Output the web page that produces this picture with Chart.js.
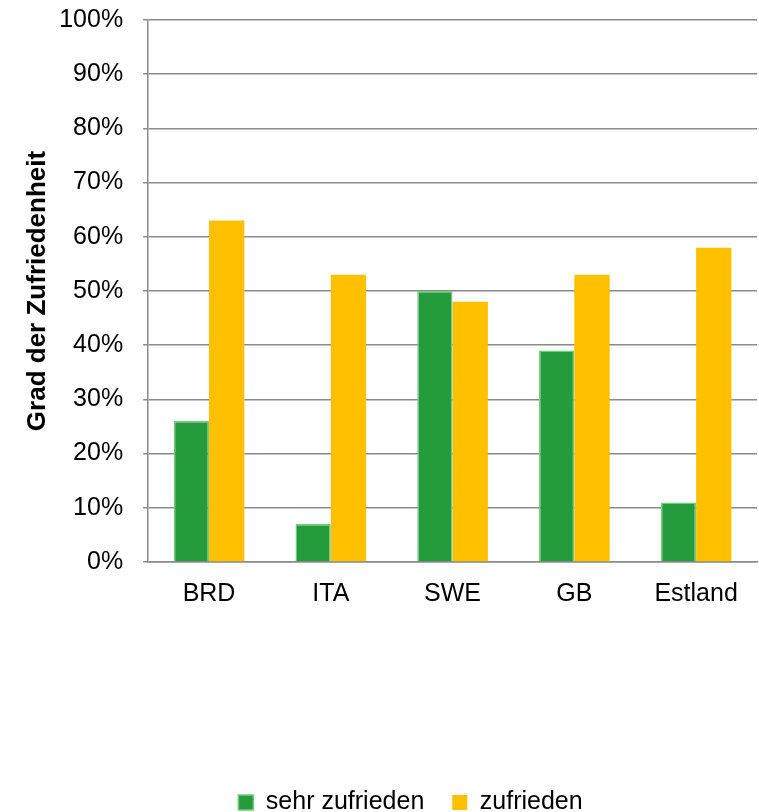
<!DOCTYPE html>
<html>
<head>
<meta charset="utf-8">
<script src="https://cdn.jsdelivr.net/npm/chart.js@4"></script>
<style>
  html, body { margin: 0; padding: 0; background: #fff; }
  #wrap { width: 759px; height: 812px; }
</style>
</head>
<body>
<div id="wrap"><canvas id="myChart"></canvas></div>
<script>
const laender = ['BRD', 'ITA', 'SWE', 'GB', 'Estland'];
const sehrZufrieden = [26, 7, 50, 39, 11];
const zufrieden = [63, 53, 48, 53, 58];
const serienNamen = ['sehr zufrieden', 'zufrieden'];

Chart.defaults.font.family = '"Liberation Sans", Arial, sans-serif';
Chart.defaults.color = '#000';

// legend sits a bit right of centre and low in the reference
const legendVerschieben = {
    id: 'legendVerschieben',
    afterLayout(chart) {
        const lg = chart.legend;
        lg.left += 21; lg.right += 21;
        lg.top += 13; lg.bottom += 13;
    }
};

function drawChart() {
    const ctx = document.getElementById('myChart');

    new Chart(ctx, {
        type: 'bar',
        data: {
            labels: laender,
            datasets: [{
                label: serienNamen[0],
                data: sehrZufrieden,
                backgroundColor: 'rgb(37, 156, 60)',
                borderColor: 'rgb(120, 200, 130)',
                borderWidth: 1.5,
                borderSkipped: 'bottom'
            }, {
                label: serienNamen[1],
                data: zufrieden,
                backgroundColor: 'rgb(255, 192, 0)',
                borderColor: 'rgb(255, 220, 120)',
                borderWidth: 0
            }]
        },
        plugins: [legendVerschieben],
        options: {
            responsive: true,
            maintainAspectRatio: false,
            animation: false,
            layout: {
                padding: { left: 22, right: 2, top: 0, bottom: 0 }
            },
            plugins: {
                legend: {
                    position: 'bottom',
                    labels: {
                        boxWidth: 15,
                        boxHeight: 15,
                        padding: 28,
                        font: { size: 25 }
                    }
                },
                tooltip: { enabled: false }
            },
            datasets: {
                bar: { barPercentage: 1, categoryPercentage: 0.58 }
            },
            scales: {
                x: {
                    grid: { display: false },
                    border: { color: '#8a8a8a', width: 1.5 },
                    ticks: { font: { size: 25 }, padding: 9 },
                    afterFit: function (scale) { scale.height += 131; }
                },
                y: {
                    min: 0,
                    max: 100,
                    ticks: {
                        stepSize: 10,
                        font: { size: 25 },
                        padding: 20,
                        callback: function (v) { return v + '%'; }
                    },
                    grid: { color: '#8a8a8a', lineWidth: 1.5, tickLength: 5 },
                    border: { color: '#8a8a8a', width: 1.5 },
                    title: {
                        display: true,
                        text: 'Grad der Zufriedenheit',
                        font: { size: 26, weight: 'bold' },
                        padding: { top: 0, bottom: 0 }
                    },
                    afterFit: function (scale) {
                        scale.width -= 14;
                        scale.paddingTop = 20;
                    }
                }
            }
        }
    });
}

drawChart();
</script>
</body>
</html>
